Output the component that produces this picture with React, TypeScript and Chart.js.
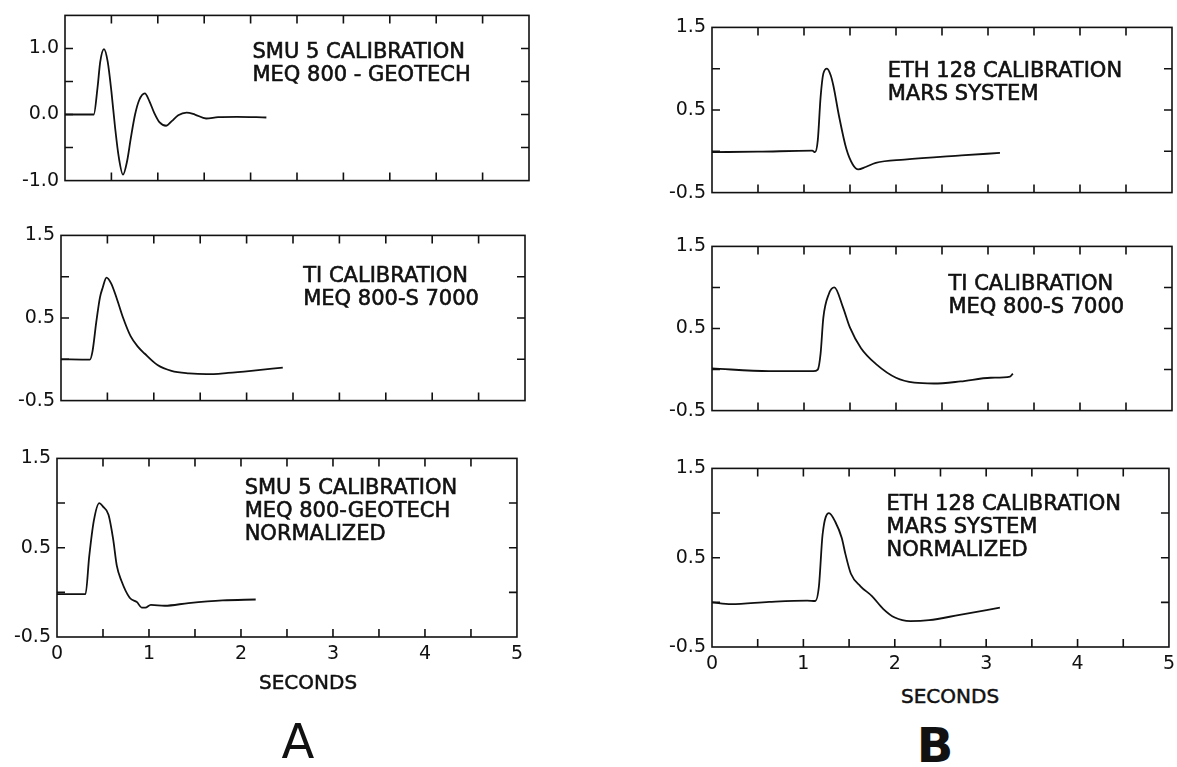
import React, { useEffect, useRef } from "react";
import { Chart, registerables } from "chart.js";

Chart.register(...registerables);

// ---------- data (seconds, normalized amplitude) ----------
const secA1 = [0, 0.31, 0.35, 0.38, 0.42, 0.46, 0.5, 0.54, 0.58, 0.625, 0.67, 0.71, 0.755, 0.8, 0.86, 0.91, 0.96, 1.02, 1.09, 1.15, 1.22, 1.31, 1.4, 1.52, 1.65, 1.85, 2.17];
const ampA1 = [0, 0, 0.4, 0.8, 0.99, 0.8, 0.35, -0.2, -0.65, -0.91, -0.7, -0.35, 0.0, 0.22, 0.32, 0.2, 0.03, -0.12, -0.17, -0.1, -0.01, 0.03, 0.0, -0.06, -0.04, -0.035, -0.045];

const secA2 = [0, 0.31, 0.34, 0.38, 0.42, 0.45, 0.49, 0.54, 0.6, 0.67, 0.75, 0.83, 0.9, 1.04, 1.19, 1.38, 1.57, 1.8, 2.05, 2.39];
const ampA2 = [0, -0.005, 0.1, 0.45, 0.75, 0.87, 0.99, 0.92, 0.74, 0.5, 0.28, 0.15, 0.07, -0.07, -0.14, -0.17, -0.18, -0.165, -0.14, -0.1];

const secA3 = [0, 0.31, 0.35, 0.4, 0.46, 0.5, 0.56, 0.61, 0.65, 0.7, 0.79, 0.87, 0.92, 0.96, 1.02, 1.17, 1.43, 1.8, 2.16];
const ampA3 = [-0.02, -0.02, 0.4, 0.8, 1.0, 0.96, 0.87, 0.6, 0.3, 0.13, -0.06, -0.11, -0.17, -0.17, -0.14, -0.15, -0.12, -0.09, -0.08];

const secB1 = [0, 0.5, 1.09, 1.12, 1.15, 1.18, 1.21, 1.25, 1.29, 1.32, 1.38, 1.46, 1.53, 1.59, 1.67, 1.78, 2.09, 2.71, 3.13];
const ampB1 = [-0.01, -0.005, 0.007, -0.01, 0.135, 0.65, 0.94, 1.0, 0.92, 0.79, 0.43, 0.03, -0.16, -0.22, -0.19, -0.14, -0.1, -0.05, -0.02];

const secB2 = [0, 0.62, 1.1, 1.15, 1.18, 1.21, 1.27, 1.33, 1.42, 1.5, 1.62, 1.79, 2.0, 2.2, 2.41, 2.7, 3.03, 3.24, 3.27];
const ampB2 = [0.015, -0.02, -0.02, 0, 0.19, 0.63, 0.92, 1.0, 0.77, 0.51, 0.26, 0.06, -0.1, -0.16, -0.17, -0.145, -0.1, -0.085, -0.05];

const secB3 = [0, 0.21, 0.625, 1.04, 1.13, 1.17, 1.21, 1.28, 1.35, 1.42, 1.46, 1.52, 1.625, 1.75, 1.875, 2.0, 2.17, 2.375, 2.71, 3.15];
const ampB3 = [0, -0.02, 0.005, 0.02, 0.015, 0.18, 0.76, 1.0, 0.9, 0.72, 0.54, 0.32, 0.18, 0.07, -0.075, -0.17, -0.21, -0.2, -0.14, -0.06];

// ---------- tick labels ----------
const xTickLabels = [0, 1, 2, 3, 4, 5];
const yLabelsA1 = [1.0, 0.0, -1.0];
const yLabelsStd = [1.5, 0.5, -0.5];

// ---------- panel annotations ----------
const textA1 = ["SMU 5 CALIBRATION", "MEQ 800 - GEOTECH"];
const textA2 = ["TI CALIBRATION", "MEQ 800-S 7000"];
const textA3 = ["SMU 5 CALIBRATION", "MEQ 800-GEOTECH", "NORMALIZED"];
const textB1 = ["ETH 128 CALIBRATION", "MARS SYSTEM"];
const textB2 = ["TI CALIBRATION", "MEQ 800-S 7000"];
const textB3 = ["ETH 128 CALIBRATION", "MARS SYSTEM", "NORMALIZED"];

const FONT = "'DejaVu Sans', 'Liberation Sans', sans-serif";

type PanelCfg = {
  xs: number[];
  ys: number[];
  yMin: number;
  yMax: number;
  yLabels: number[];
  showX: boolean;
  lines: string[];
  textX: number;
  textY: number;
  box: { left: number; top: number; right: number; bottom: number };
};

const PAD_L = 60;
const PAD_R = 10;
const PAD_T = 12;

const framePlugin = {
  id: "frame",
  afterDraw(chart: any, _args: any, opts: any) {
    const { ctx, chartArea } = chart;
    const { left, top, right, bottom } = chartArea;
    const xs = chart.scales.x;
    const ys = chart.scales.y;
    ctx.save();
    ctx.strokeStyle = "#111";
    ctx.lineWidth = 1.6;
    ctx.strokeRect(left, top, right - left, bottom - top);
    const L = 8;
    ctx.beginPath();
    xs.ticks.forEach((t: any) => {
      const p = xs.getPixelForValue(t.value);
      if (p <= left + 1 || p >= right - 1) return;
      ctx.moveTo(p, top);
      ctx.lineTo(p, top + L);
      ctx.moveTo(p, bottom);
      ctx.lineTo(p, bottom - L);
    });
    ys.ticks.forEach((t: any) => {
      const p = ys.getPixelForValue(t.value);
      if (p <= top + 1 || p >= bottom - 1) return;
      ctx.moveTo(left, p);
      ctx.lineTo(left + L, p);
      ctx.moveTo(right, p);
      ctx.lineTo(right - L, p);
    });
    ctx.stroke();
    // annotation text
    const lines: string[] = opts.lines || [];
    ctx.fillStyle = "#111";
    ctx.strokeStyle = "#111";
    ctx.lineWidth = 0.6;
    ctx.font = `21px ${FONT}`;
    ctx.textAlign = "left";
    ctx.textBaseline = "middle";
    const x0 = xs.getPixelForValue(opts.textX);
    const y0 = ys.getPixelForValue(opts.textY);
    lines.forEach((s, i) => {
      ctx.fillText(s, x0, y0 + i * 23);
      ctx.strokeText(s, x0, y0 + i * 23);
    });
    ctx.restore();
  },
};

function Panel({ cfg }: { cfg: PanelCfg }) {
  const ref = useRef<HTMLCanvasElement | null>(null);
  const { box } = cfg;
  const xh = cfg.showX ? 34 : 4;
  const w = box.right - box.left + PAD_L + PAD_R;
  const h = box.bottom - box.top + PAD_T + xh;

  useEffect(() => {
    if (!ref.current) return;
    const chart = new Chart(ref.current, {
      type: "line",
      data: {
        datasets: [
          {
            data: cfg.xs.map((x, i) => ({ x, y: cfg.ys[i] })),
            borderColor: "#111",
            borderWidth: 1.8,
            pointRadius: 0,
            fill: false,
            cubicInterpolationMode: "monotone",
          },
        ],
      },
      options: {
        animation: false,
        responsive: false,
        devicePixelRatio: 1,
        layout: { padding: { top: PAD_T, right: PAD_R, left: 0, bottom: 0 } },
        plugins: {
          legend: { display: false },
          tooltip: { enabled: false },
          // @ts-ignore
          frame: { lines: cfg.lines, textX: cfg.textX, textY: cfg.textY },
        },
        scales: {
          x: {
            type: "linear",
            min: 0,
            max: 5,
            grid: { display: false, drawTicks: false },
            border: { display: false },
            ticks: {
              stepSize: 0.5,
              autoSkip: false,
              maxRotation: 0,
              padding: 6,
              color: "#111",
              font: { family: FONT, size: 19 },
              callback: (v: any) => (cfg.showX && xTickLabels.includes(Number(v)) ? String(v) : ""),
            },
            afterFit: (s: any) => {
              s.height = xh;
            },
          },
          y: {
            type: "linear",
            min: cfg.yMin,
            max: cfg.yMax,
            grid: { display: false, drawTicks: false },
            border: { display: false },
            ticks: {
              stepSize: 0.5,
              autoSkip: false,
              padding: 6,
              color: "#111",
              font: { family: FONT, size: 19 },
              callback: (v: any) => (cfg.yLabels.includes(Number(v)) ? Number(v).toFixed(1) : ""),
            },
            afterFit: (s: any) => {
              s.width = PAD_L;
            },
          },
        },
      },
      plugins: [framePlugin],
    } as any);
    return () => chart.destroy();
  }, []);

  return (
    <div style={{ position: "absolute", left: box.left - PAD_L, top: box.top - PAD_T, width: w, height: h }}>
      <canvas ref={ref} width={w} height={h} style={{ width: w, height: h, display: "block" }} />
    </div>
  );
}

const panels: PanelCfg[] = [
  { xs: secA1, ys: ampA1, yMin: -1, yMax: 1.5, yLabels: yLabelsA1, showX: false, lines: textA1, textX: 2.02, textY: 0.94, box: { left: 65, top: 10, right: 529, bottom: 194 } },
  { xs: secA2, ys: ampA2, yMin: -0.5, yMax: 1.5, yLabels: yLabelsStd, showX: false, lines: textA2, textX: 2.61, textY: 1.0, box: { left: 61, top: 230, right: 525, bottom: 414 } },
  { xs: secA3, ys: ampA3, yMin: -0.5, yMax: 1.5, yLabels: yLabelsStd, showX: true, lines: textA3, textX: 2.04, textY: 1.16, box: { left: 57, top: 453, right: 519, bottom: 637 } },
  { xs: secB1, ys: ampB1, yMin: -0.5, yMax: 1.5, yLabels: yLabelsStd, showX: false, lines: textB1, textX: 1.91, textY: 0.97, box: { left: 712, top: 22, right: 1172, bottom: 206 } },
  { xs: secB2, ys: ampB2, yMin: -0.5, yMax: 1.5, yLabels: yLabelsStd, showX: false, lines: textB2, textX: 2.57, textY: 1.03, box: { left: 712, top: 241, right: 1172, bottom: 424 } },
  { xs: secB3, ys: ampB3, yMin: -0.5, yMax: 1.5, yLabels: yLabelsStd, showX: true, lines: textB3, textX: 1.91, textY: 1.1, box: { left: 712, top: 463, right: 1171, bottom: 647 } },
];

export default function App() {
  return (
    <div
      style={{
        position: "fixed",
        left: 0,
        top: 0,
        width: 1177,
        height: 767,
        overflow: "hidden",
        background: "#fff",
        color: "#111",
        fontFamily: FONT,
      }}
    >
      {panels.map((p, i) => (
        <Panel key={i} cfg={p} />
      ))}
      <div style={{ position: "absolute", left: 259, top: 672, fontSize: 20, lineHeight: "20px", WebkitTextStroke: "0.5px #111" }}>SECONDS</div>
      <div style={{ position: "absolute", left: 901, top: 686, fontSize: 20, lineHeight: "20px", WebkitTextStroke: "0.5px #111" }}>SECONDS</div>
      <div style={{ position: "absolute", left: 268, width: 60, textAlign: "center", top: 716, fontSize: 48, lineHeight: "50px" }}>A</div>
      <div style={{ position: "absolute", left: 905, width: 60, textAlign: "center", top: 720, fontSize: 48, lineHeight: "50px", fontWeight: "bold" }}>B</div>
    </div>
  );
}
